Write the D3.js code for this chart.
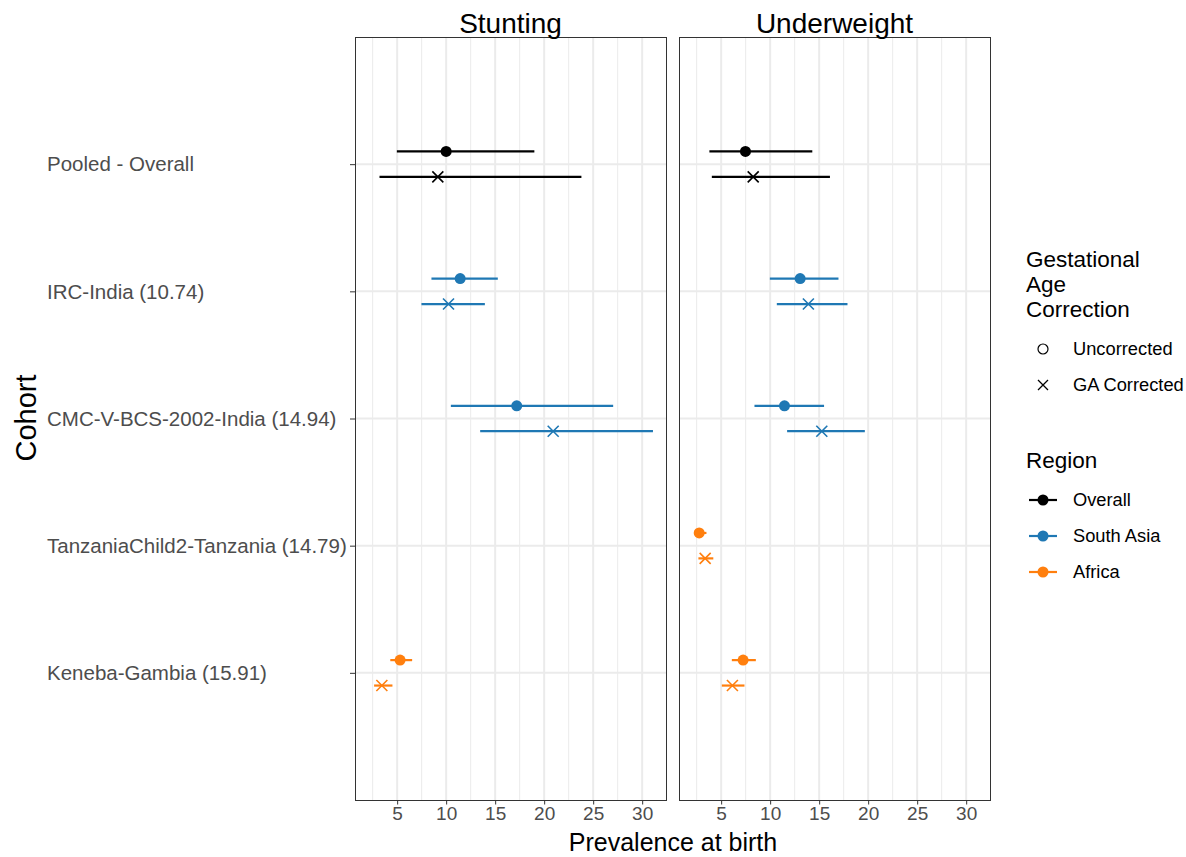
<!DOCTYPE html>
<html><head><meta charset="utf-8">
<script src="https://cdn.jsdelivr.net/npm/d3@7/dist/d3.min.js"></script>
<style>body{margin:0;background:#fff}svg{display:block;font-family:"Liberation Sans",Arial,sans-serif}</style>
</head><body><svg id="c" width="1186" height="857"></svg>
<script>
const cohorts = ["Pooled - Overall","IRC-India (10.74)","CMC-V-BCS-2002-India (14.94)","TanzaniaChild2-Tanzania (14.79)","Keneba-Gambia (15.91)"];
const panels = ["Stunting","Underweight"];
const corrections = ["Uncorrected","GA Corrected"];
const regions = ["Overall","South Asia","Africa"];
const regionColors = ["#000000","#1f78b4","#ff7f0e"];
const xTicks = [5,10,15,20,25,30];
// [cohort, correction, region, estimate, lower, upper]
const stuntRows = [
  ["Pooled - Overall","Uncorrected","Overall",10.0,4.97,19.0],
  ["Pooled - Overall","GA Corrected","Overall",9.15,3.2,23.8],
  ["IRC-India (10.74)","Uncorrected","South Asia",11.43,8.5,15.27],
  ["IRC-India (10.74)","GA Corrected","South Asia",10.24,7.48,13.95],
  ["CMC-V-BCS-2002-India (14.94)","Uncorrected","South Asia",17.2,10.48,27.04],
  ["CMC-V-BCS-2002-India (14.94)","GA Corrected","South Asia",20.92,13.47,31.1],
  ["Keneba-Gambia (15.91)","Uncorrected","Africa",5.3,4.3,6.53],
  ["Keneba-Gambia (15.91)","GA Corrected","Africa",3.44,2.65,4.52]
];
const underRows = [
  ["Pooled - Overall","Uncorrected","Overall",7.48,3.8,14.3],
  ["Pooled - Overall","GA Corrected","Overall",8.27,4.05,16.1],
  ["IRC-India (10.74)","Uncorrected","South Asia",13.06,9.97,16.97],
  ["IRC-India (10.74)","GA Corrected","South Asia",13.9,10.68,17.89],
  ["CMC-V-BCS-2002-India (14.94)","Uncorrected","South Asia",11.46,8.4,15.5],
  ["CMC-V-BCS-2002-India (14.94)","GA Corrected","South Asia",15.27,11.73,19.66],
  ["TanzaniaChild2-Tanzania (14.79)","Uncorrected","Africa",2.76,2.3,3.5],
  ["TanzaniaChild2-Tanzania (14.79)","GA Corrected","Africa",3.37,2.68,4.2],
  ["Keneba-Gambia (15.91)","Uncorrected","Africa",7.24,6.09,8.54],
  ["Keneba-Gambia (15.91)","GA Corrected","Africa",6.15,5.07,7.38]
];
const panelData = [stuntRows, underRows];

const svg = d3.select("#c");
const color = d3.scaleOrdinal(regions, regionColors);
const pTop = 37, pBottom = 800;
const panelX = [355, 679], panelW = 311;
const y = d3.scaleLinear().domain([0,6]).range([pTop,pBottom]);
const yPos = c => y(cohorts.indexOf(c)+1);
const dodge = d3.scaleOrdinal(corrections, [-0.1, 0.1]);
const minorTicks = d3.range(2.5, 33, 5);

panels.forEach((p, pi) => {
  const x = d3.scaleLinear().domain([0.7, 32.43]).range([panelX[pi], panelX[pi]+panelW]);
  const g = svg.append("g");
  g.selectAll(".mx").data(minorTicks.filter(t=>t>0.7&&t<32.4)).join("line")
    .attr("x1",d=>x(d)).attr("x2",d=>x(d)).attr("y1",pTop).attr("y2",pBottom)
    .attr("stroke","#ebebeb").attr("stroke-width",1);
  g.selectAll(".Mx").data(xTicks).join("line")
    .attr("x1",d=>x(d)).attr("x2",d=>x(d)).attr("y1",pTop).attr("y2",pBottom)
    .attr("stroke","#ebebeb").attr("stroke-width",2);
  g.selectAll(".My").data(cohorts).join("line")
    .attr("x1",panelX[pi]).attr("x2",panelX[pi]+panelW).attr("y1",d=>yPos(d)).attr("y2",d=>yPos(d))
    .attr("stroke","#ebebeb").attr("stroke-width",2);
  const rows = panelData[pi];
  const ry = d => y(cohorts.indexOf(d[0])+1 + dodge(d[1]));
  g.selectAll(".err").data(rows).join("line")
    .attr("x1",d=>x(d[4])).attr("x2",d=>x(d[5])).attr("y1",ry).attr("y2",ry)
    .attr("stroke",d=>color(d[2])).attr("stroke-width",2.2);
  rows.forEach(d => {
    const cx = x(d[3]), cy = ry(d);
    if (d[1] === "Uncorrected") {
      g.append("circle").attr("cx",cx).attr("cy",cy).attr("r",5.5).attr("fill",color(d[2]));
    } else {
      const s = 5.5;
      g.append("path").attr("d",`M${cx-s},${cy-s}L${cx+s},${cy+s}M${cx-s},${cy+s}L${cx+s},${cy-s}`)
        .attr("stroke",color(d[2])).attr("stroke-width",1.6).attr("fill","none");
    }
  });
  g.append("rect").attr("x",panelX[pi]+0.5).attr("y",pTop+0.5).attr("width",panelW).attr("height",pBottom-pTop)
    .attr("fill","none").attr("stroke","#333333").attr("stroke-width",1);
  const ax = svg.append("g").attr("transform",`translate(0,${pBottom+0.5})`)
    .call(d3.axisBottom(x).tickValues(xTicks).tickSize(4).tickPadding(2));
  ax.select(".domain").remove();
  ax.selectAll(".tick line").attr("stroke","#333333");
  ax.selectAll("text").attr("fill","#4d4d4d").style("font-size","19px").style("font-family","Liberation Sans, Arial, sans-serif");
  svg.append("text").attr("x",panelX[pi]+panelW/2).attr("y",33).attr("text-anchor","middle")
    .style("font-size","28px").attr("fill","#000").text(p);
});

const yg = svg.append("g");
yg.selectAll("line").data(cohorts).join("line")
  .attr("x1",350).attr("x2",355).attr("y1",d=>yPos(d)+0.5).attr("y2",d=>yPos(d)+0.5).attr("stroke","#333333");
yg.selectAll("text").data(cohorts).join("text")
  .attr("x",47).attr("y",d=>yPos(d)).attr("dy","0.35em")
  .attr("fill","#4d4d4d").style("font-size","20.5px").text(d=>d);

svg.append("text").attr("x",673).attr("y",851).attr("text-anchor","middle").style("font-size","25px").text("Prevalence at birth");
svg.append("text").attr("transform","translate(36,418) rotate(-90)").attr("text-anchor","middle").style("font-size","29px").text("Cohort");

const lg = svg.append("g");
["Gestational","Age","Correction"].forEach((t,i)=>
  lg.append("text").attr("x",1026).attr("y",267+i*25).style("font-size","22.5px").text(t));
corrections.forEach((c,i)=>{
  const cy = 349 + i*36, cx = 1043;
  if (i===0) lg.append("circle").attr("cx",cx).attr("cy",cy).attr("r",5).attr("fill","none").attr("stroke","#000").attr("stroke-width",1.2);
  else { const s=5; lg.append("path").attr("d",`M${cx-s},${cy-s}L${cx+s},${cy+s}M${cx-s},${cy+s}L${cx+s},${cy-s}`).attr("stroke","#000").attr("stroke-width",1.3); }
  lg.append("text").attr("x",1073).attr("y",cy).attr("dy","0.35em").style("font-size","18.3px").text(c);
});
lg.append("text").attr("x",1026).attr("y",468).style("font-size","22.5px").text("Region");
regions.forEach((r,i)=>{
  const cy = 500 + i*36;
  lg.append("line").attr("x1",1029).attr("x2",1057).attr("y1",cy).attr("y2",cy).attr("stroke",color(r)).attr("stroke-width",2.2);
  lg.append("circle").attr("cx",1043).attr("cy",cy).attr("r",5.5).attr("fill",color(r));
  lg.append("text").attr("x",1073).attr("y",cy).attr("dy","0.35em").style("font-size","18.3px").text(r);
});
</script></body></html>
